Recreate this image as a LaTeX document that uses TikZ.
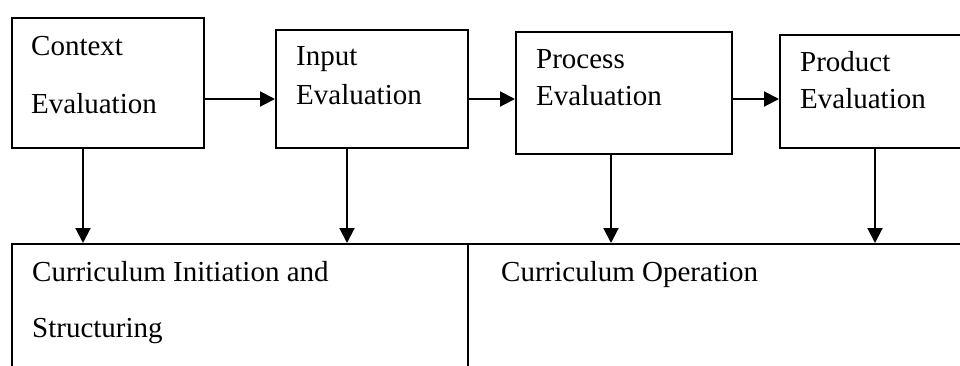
\documentclass[tikz,border=0pt]{standalone}
\usepackage{fontspec}
\setmainfont{Liberation Serif}
\usetikzlibrary{arrows.meta}
\begin{document}
\begin{tikzpicture}[x=1pt,y=-1pt,
  box/.style={draw,line width=1.5pt,rectangle,inner sep=0pt,anchor=north west},
  lbl/.style={anchor=base west,inner sep=0pt,font=\fontsize{29}{35}\selectfont},
  arr/.style={line width=2pt,-{Triangle[length=15pt,width=15pt]}}]
\path[use as bounding box] (0,0) rectangle (960,365);
\clip (0,0) rectangle (960,365);
% boxes
\node[box,minimum width=192pt,minimum height=130pt] (ctx) at (11,17) {};
\node[box,minimum width=192pt,minimum height=118pt] (inp) at (275,29) {};
\node[box,minimum width=216pt,minimum height=122pt] (proc) at (515,31) {};
\node[box,minimum width=260pt,minimum height=113pt] (prod) at (779,34) {};
\node[box,minimum width=456pt,minimum height=160pt] (cis) at (11,243) {};
\node[box,minimum width=560pt,minimum height=160pt] (cop) at (467,243) {};
% texts
\node[lbl] (t1) at (31,55) {Context};
\node[lbl] (t2) at (31,113) {Evaluation};
\node[lbl] (t3) at (296,65) {Input};
\node[lbl] (t4) at (296,104) {Evaluation};
\node[lbl] (t5) at (536,68) {Process};
\node[lbl] (t6) at (536,105) {Evaluation};
\node[lbl] (t7) at (800,71) {Product};
\node[lbl] (t8) at (800,108) {Evaluation};
\node[lbl] (t9) at (32,281) {Curriculum Initiation and};
\node[lbl] (t10) at (32,337) {Structuring};
\node[lbl] (t11) at (501,281) {Curriculum Operation};
% connectors
\coordinate (hy) at (0,99);
\draw[arr] (ctx.east |- hy) -- (inp.west |- hy);
\draw[arr] (inp.east |- hy) -- (proc.west |- hy);
\draw[arr] (proc.east |- hy) -- (prod.west |- hy);
\coordinate (v1) at (83,0);
\coordinate (v2) at (347,0);
\coordinate (v3) at (611,0);
\coordinate (v4) at (875,0);
\draw[arr] (v1 |- ctx.south) -- (v1 |- cis.north);
\draw[arr] (v2 |- inp.south) -- (v2 |- cis.north);
\draw[arr] (v3 |- proc.south) -- (v3 |- cop.north);
\draw[arr] (v4 |- prod.south) -- (v4 |- cop.north);
\end{tikzpicture}
\end{document}
